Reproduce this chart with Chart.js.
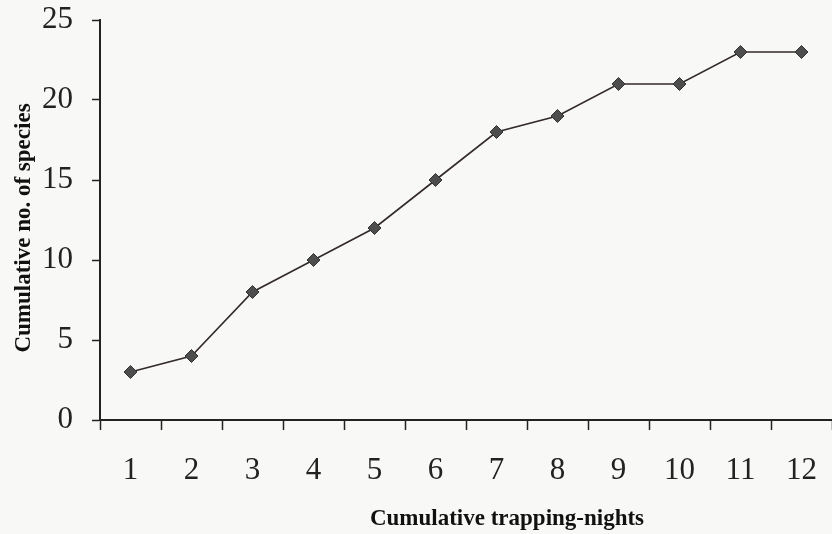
<!DOCTYPE html>
<html>
<head>
<meta charset="utf-8">
<script src="https://cdn.jsdelivr.net/npm/chart.js@4/dist/chart.umd.min.js"></script>
<style>
  body { margin: 0; background: #f8f8f6; }
  #wrap { width: 832px; height: 534px; }
</style>
</head>
<body>
<div id="wrap"><canvas id="speciesChart"></canvas></div>
<script>
'use strict'

// 累積捕獲夜数と種数
const trappingNights = ['1', '2', '3', '4', '5', '6', '7', '8', '9', '10', '11', '12'];
const cumulativeSpecies = [3, 4, 8, 10, 12, 15, 18, 19, 21, 21, 23, 23];
const yTickValues = [0, 5, 10, 15, 20, 25];
const xTitle = 'Cumulative trapping-nights';
const yTitle = 'Cumulative no. of species';

const axisColor = '#222';
const serif = '"Liberation Serif", "Times New Roman", serif';

// 軸タイトル（元の図は右で切れているので、x軸タイトルは少し右寄り）
const axisTitlePlugin = {
  id: 'axisTitles',
  afterDraw(chart) {
    const {ctx, chartArea} = chart;
    ctx.save();
    ctx.font = 'bold 23px ' + serif;
    ctx.fillStyle = '#111';
    ctx.textAlign = 'center';
    ctx.textBaseline = 'middle';
    ctx.fillText(xTitle, (chartArea.left + chartArea.right) / 2 + 41, 519);
    ctx.translate(24, (chartArea.top + chartArea.bottom) / 2 + 8);
    ctx.rotate(-Math.PI / 2);
    ctx.fillText(yTitle, 0, 0);
    ctx.restore();
  }
};

const ctx = document.getElementById('speciesChart');
const myChart = new Chart(ctx, {
  type: 'line',
  data: {
    labels: trappingNights,
    datasets: [{
      data: cumulativeSpecies,
      borderColor: '#332a2a',
      borderWidth: 1.6,
      pointStyle: 'rectRot',
      pointRadius: 6.5,
      pointBackgroundColor: '#4d4d4d',
      pointBorderColor: '#333',
      pointBorderWidth: 1,
      tension: 0,
    }]
  },
  plugins: [axisTitlePlugin],
  options: {
    responsive: true,
    maintainAspectRatio: false,
    animation: false,
    layout: {
      autoPadding: false,
      padding: {top: 20, left: 0, right: 0, bottom: 0}
    },
    scales: {
      x: {
        offset: true,
        grid: {
          display: true,
          offset: true,
          drawOnChartArea: false,
          drawTicks: true,
          tickLength: 10,
          tickColor: axisColor,
          tickWidth: 1.5,
        },
        border: {color: axisColor, width: 2},
        ticks: {
          color: '#222',
          padding: 14,
          maxRotation: 0,
          font: {family: serif, size: 31, lineHeight: 1.72},
        },
        title: {display: false},
        afterFit: function(scale) {
          scale.height = 114;
        }
      },
      y: {
        min: 0,
        max: 25,
        afterBuildTicks: function(scale) {
          scale.ticks = yTickValues.map(v => ({value: v}));
        },
        grid: {
          display: true,
          drawOnChartArea: false,
          tickLength: 8,
          tickColor: axisColor,
          tickWidth: 1.5,
        },
        border: {color: axisColor, width: 2},
        ticks: {
          color: '#222',
          padding: 19,
          font: {family: serif, size: 31, lineHeight: 0.05},
        },
        title: {display: false},
        afterFit: function(scale) {
          scale.width = 100;
        }
      }
    },
    plugins: {
      legend: {display: false},
      tooltip: {enabled: false},
    }
  }
});
</script>
</body>
</html>
